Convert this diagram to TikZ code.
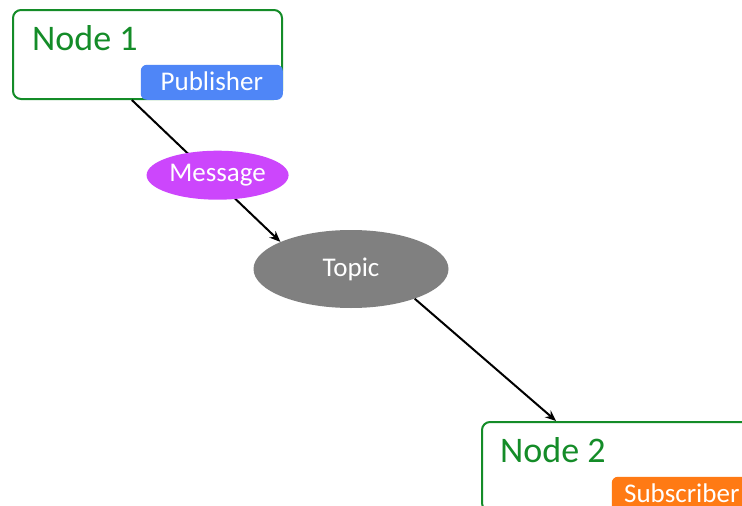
\documentclass[tikz,border=0pt]{standalone}
\usepackage{fontspec}
\setmainfont{Carlito}
\usetikzlibrary{shapes.geometric}
\usetikzlibrary{arrows.meta}
\usetikzlibrary{positioning}

\definecolor{nodegreen}{RGB}{20,140,40}
\definecolor{pubblue}{RGB}{79,134,247}
\definecolor{subrange}{RGB}{255,122,20}
\definecolor{msgpurple}{RGB}{204,70,252}
\definecolor{topicgray}{RGB}{128,128,128}

\begin{document}
\begin{tikzpicture}[x=1pt,y=-1pt,
	rosnode/.style={draw=nodegreen,line width=2pt,rounded corners=8pt,fill=white,
		minimum width=269pt,minimum height=89pt,inner sep=0pt,anchor=north west},
	nodetitle/.style={text=nodegreen,font=\fontsize{36}{40}\selectfont,anchor=base west,inner sep=0pt},
	rostag/.style={rounded corners=6pt,text=white,minimum height=35pt,inner sep=0pt,
		anchor=south east,font=\fontsize{27}{30}\selectfont},
	bubble/.style={ellipse,text=white,inner sep=0pt,font=\fontsize{27}{30}\selectfont},
	flow/.style={line width=2pt,-{Stealth[length=11pt,width=9pt]}}]
	\useasboundingbox (0,0) rectangle (742,506);

	% ROS nodes
	\node[rosnode] at (12,9) (node1) {};
	\node[nodetitle] at ([shift={(20,41)}]node1.north west) (n1title) {Node 1};
	\node[rostag,fill=pubblue,minimum width=142pt] at (node1.south east) (pub) {\raisebox{1.5pt}{Publisher}};

	\node[rosnode] at (481,421) (node2) {};
	\node[nodetitle] at ([shift={(19,41)}]node2.north west) (n2title) {Node 2};
	\node[rostag,fill=subrange,minimum width=140pt] at (node2.south east) (sub) {\raisebox{1.5pt}{Subscriber}};

	% topic
	\node[bubble,fill=topicgray,minimum width=195pt,minimum height=78pt] at (351,269) (topic) {Topic};

	\draw[flow] (node1.251) -- node[bubble,fill=msgpurple,minimum width=142pt,minimum height=49pt,
		pos=0.53,xshift=7pt] (msg) {Message} (topic.159);
	\draw[flow] (topic.335) -- (node2.143);
\end{tikzpicture}
\end{document}
